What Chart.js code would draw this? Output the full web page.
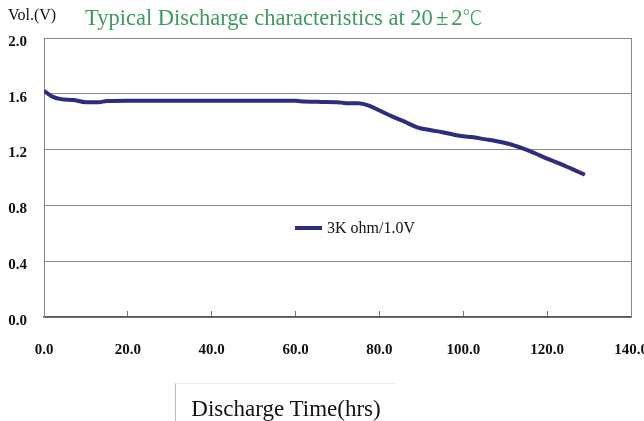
<!DOCTYPE html>
<html>
<head>
<meta charset="utf-8">
<script src="https://cdn.jsdelivr.net/npm/chart.js@4.4.0/dist/chart.umd.min.js"></script>
<style>
  html, body { margin: 0; padding: 0; background: #fff; }
  #wrap { position: relative; width: 644px; height: 421px; font-family: 'Liberation Serif', 'Noto Sans CJK TC', serif; }
  #myChart { position: absolute; left: 0; top: 0; }
  .vol { position: absolute; left: 8px; top: 6px; font-size: 16px; color: #111; }
  .title { position: absolute; left: 85px; top: 2px; font-size: 22.5px; color: #3d9a5f; white-space: nowrap; }
  .title .pm { margin: 0 3px; }
  .title .deg { font-weight: 300; font-size: 20px; }
  .legend { position: absolute; left: 295px; top: 219px; font-size: 16px; color: #111; display: flex; align-items: center; white-space: nowrap; }
  .legend .swatch { display: inline-block; width: 27px; height: 4px; background: #2e2d7d; margin-right: 5px; }
  .xbox { position: absolute; left: 175px; top: 383px; width: 220px; height: 40px; border-left: 1px solid #bbb; border-top: 1px solid #eee; }
  .xbox div { text-align: center; font-size: 23px; margin-top: 12px; color: #111; }
</style>
</head>
<body>
<div id="wrap">
  <canvas id="myChart" width="644" height="421"></canvas>
  <div class="vol">Vol.(V)</div>
  <div class="title">Typical Discharge characteristics at 20<span class="pm">±</span>2<span class="deg">℃</span></div>
  <div class="legend"><span class="swatch"></span>3K ohm/1.0V</div>
  <div class="xbox"><div>Discharge Time(hrs)</div></div>
</div>
<script>
// discharge curve, hours vs volts
var hours = [0, 1, 2, 4, 7, 10, 13, 15, 20, 30, 40, 50, 60, 62, 66, 70, 72, 75, 77.5, 80, 83, 86, 89, 92, 95, 98, 100, 102, 105, 108, 111, 114, 117, 120, 123, 126, 129];
var volts = [1.62, 1.60, 1.58, 1.562, 1.555, 1.54, 1.54, 1.548, 1.55, 1.55, 1.55, 1.55, 1.55, 1.545, 1.542, 1.54, 1.533, 1.532, 1.515, 1.48, 1.438, 1.40, 1.36, 1.34, 1.325, 1.305, 1.295, 1.29, 1.275, 1.26, 1.24, 1.21, 1.175, 1.135, 1.10, 1.06, 1.02];
var seriesLabel = '3K ohm/1.0V';

var points = hours.map(function (h, i) { return { x: h, y: volts[i] }; });
var tickFont = { family: 'Liberation Serif', size: 15, weight: 'bold' };

var ctx = document.getElementById('myChart').getContext('2d');
new Chart(ctx, {
  type: 'scatter',
  data: {
    datasets: [{
      label: seriesLabel,
      data: points,
      showLine: true,
      borderColor: '#2e2d7d',
      backgroundColor: '#2e2d7d',
      borderWidth: 4,
      pointRadius: 0,
      cubicInterpolationMode: 'monotone'
    }]
  },
  options: {
    responsive: false,
    animation: false,
    devicePixelRatio: 1,
    layout: { padding: { top: 38, right: 13, bottom: 64, left: 0 } },
    plugins: { legend: { display: false }, tooltip: { enabled: false } },
    scales: {
      x: {
        type: 'linear',
        position: 'bottom',
        min: 0,
        max: 140,
        ticks: {
          stepSize: 20,
          autoSkip: false,
          maxRotation: 0,
          padding: 30,
          color: '#111',
          font: tickFont,
          callback: function (v) { return v.toFixed(1); }
        },
        grid: { drawOnChartArea: false, drawTicks: true, tickLength: -6, color: '#777' },
        border: { color: '#555', width: 1.5 },
        afterFit: function (s) { s.height = 40; s.paddingLeft = 0; s.paddingRight = 0; }
      },
      y: {
        min: 0,
        max: 2,
        ticks: {
          stepSize: 0.4,
          padding: 17,
          labelOffset: 4,
          color: '#111',
          font: tickFont,
          callback: function (v) { return v.toFixed(1); }
        },
        grid: { color: '#888', drawTicks: false },
        border: { color: '#888' },
        afterFit: function (s) { s.width = 44; }
      },
      yRight: {
        position: 'right',
        min: 0,
        max: 2,
        ticks: { display: false },
        grid: { drawOnChartArea: false, drawTicks: false },
        border: { color: '#888' },
        afterFit: function (s) { s.width = 0; }
      }
    }
  }
});
</script>
</body>
</html>
